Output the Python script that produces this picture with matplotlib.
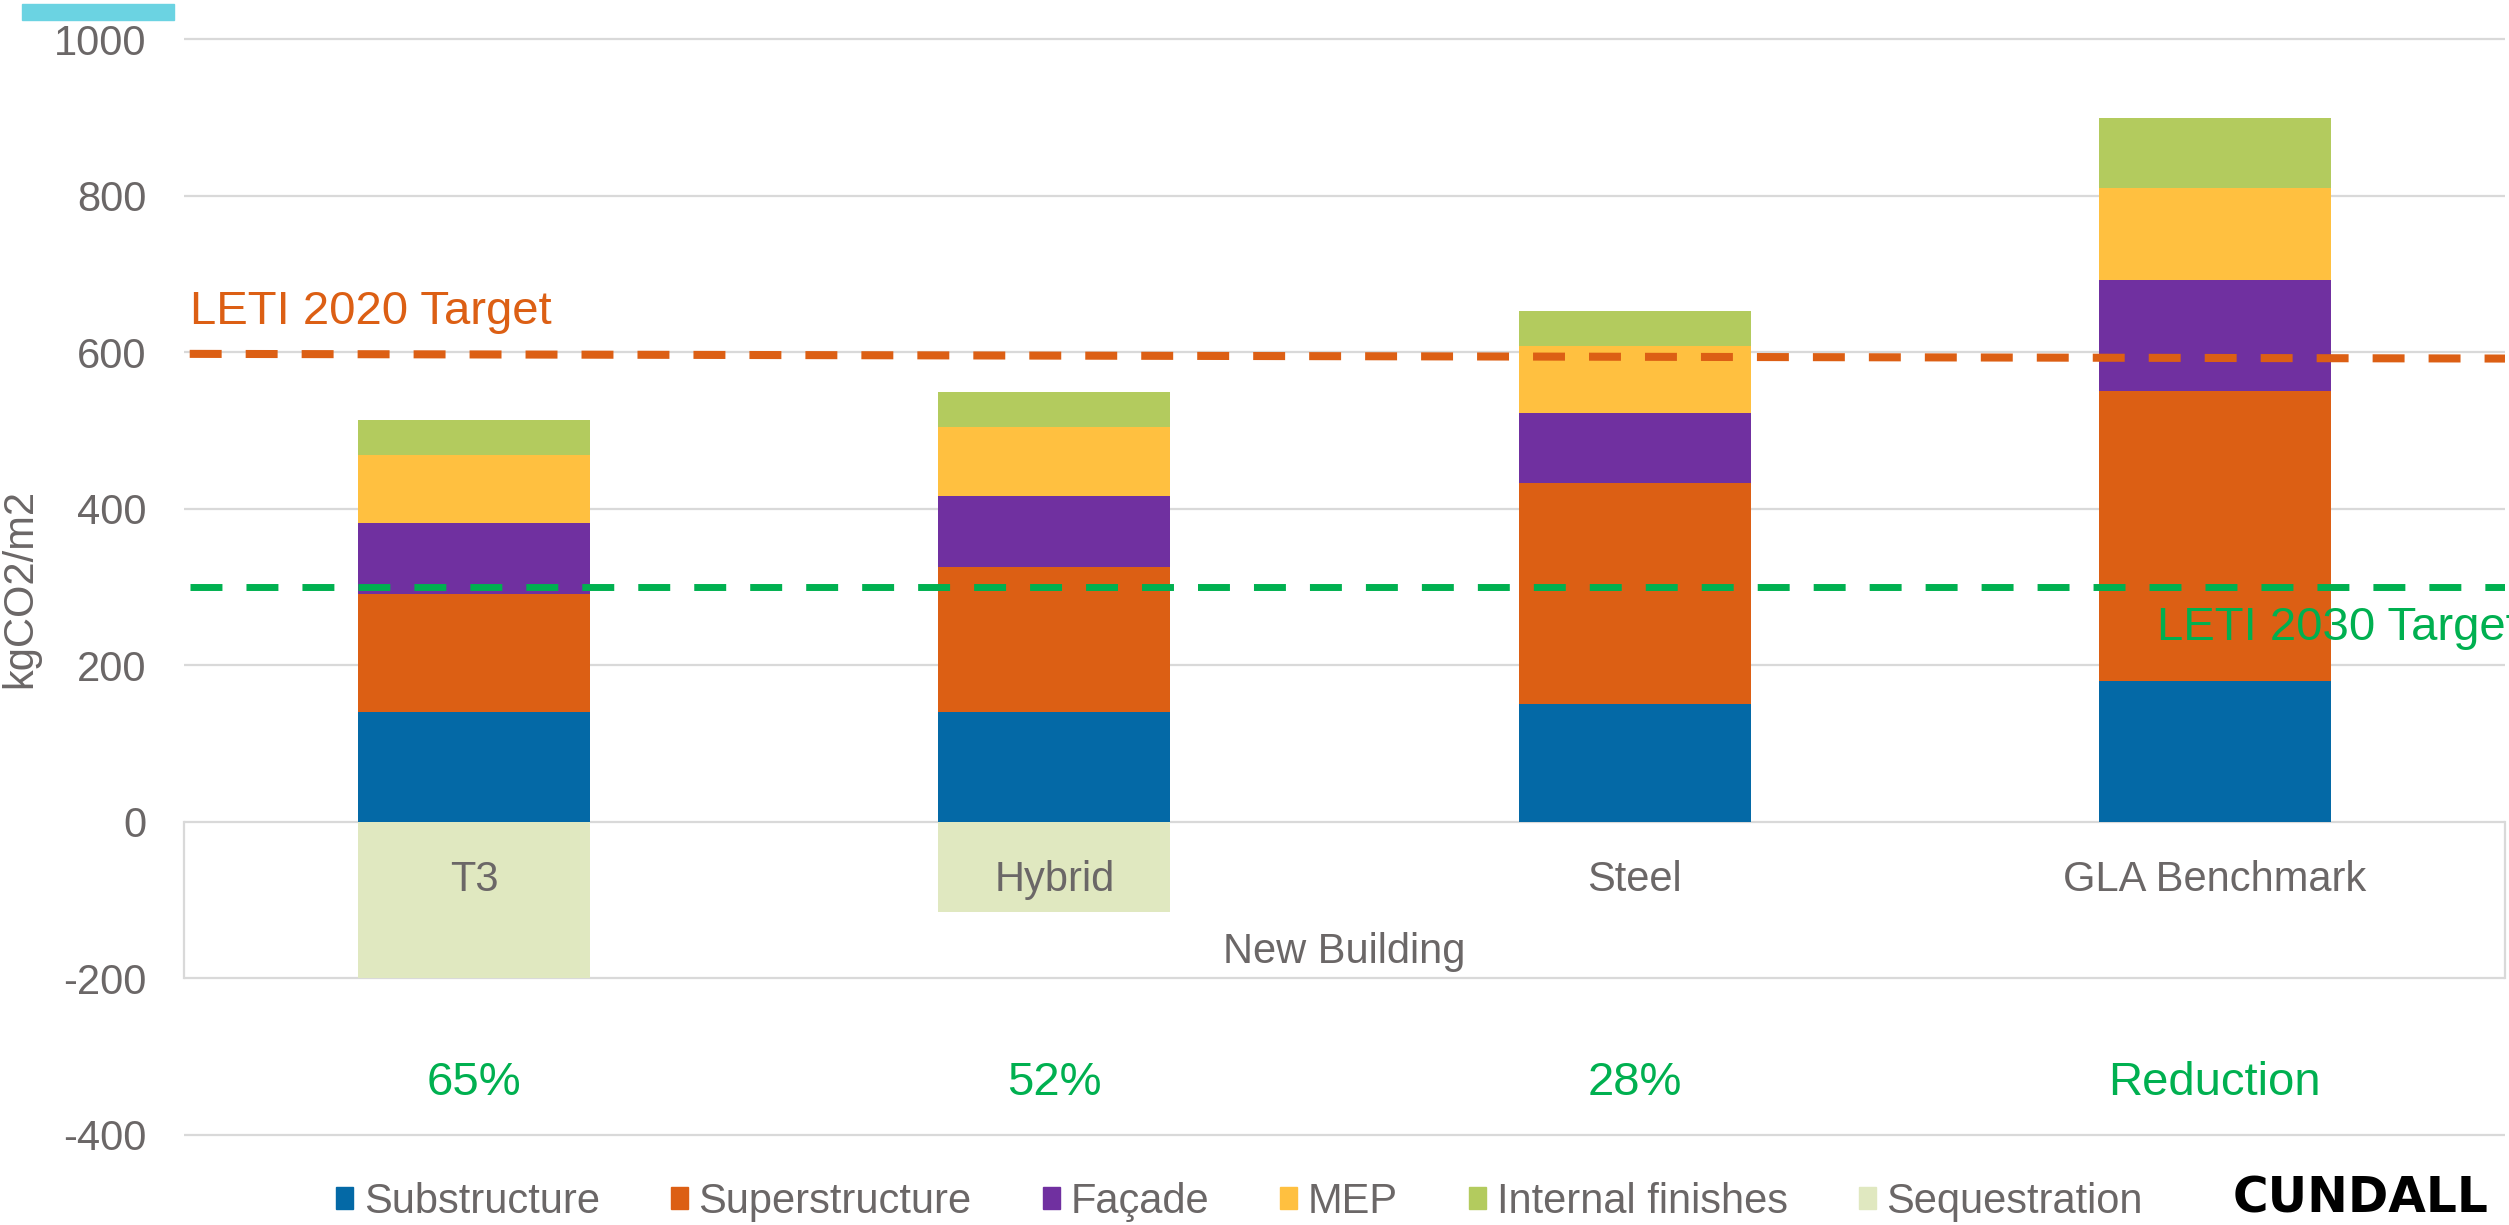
import matplotlib
matplotlib.use("Agg")
import matplotlib.pyplot as plt
from matplotlib.patches import Patch, Rectangle
import numpy as np

plt.rcParams['font.family'] = ['Liberation Sans', 'DejaVu Sans']
plt.rcParams['lines.scale_dashes'] = False
plt.rcParams['axes.unicode_minus'] = False

# data (kgCO2/m2)
categories = ['T3', 'Hybrid', 'Steel', 'GLA Benchmark']
group_label = 'New Building'
substructure = [140, 140, 150, 180]
superstructure = [151, 186, 283, 370]
facade = [91, 90, 89, 142]
mep = [87, 88, 86, 118]
internal_finishes = [45, 45, 45, 90]
sequestration = [-200, -116, 0, 0]
reduction_labels = ['65%', '52%', '28%', 'Reduction']
leti_2020 = [598, 592]   # line drifts slightly across the chart
leti_2030 = 300

series_names = ['Substructure', 'Superstructure', 'Façade', 'MEP',
                'Internal finishes', 'Sequestration']
colors = ['#0469A6', '#DC5F14', '#7030A0', '#FFC040', '#B3CB5E', '#E0E8C0']
grey = '#6B6767'
orange = '#DC5F14'
green = '#00B050'

fig = plt.figure(figsize=(25.09, 12.25), dpi=100)
ax = fig.add_axes([0.0733, 0.0718, 0.9251, 0.898])

x = np.arange(len(categories))
width = 0.4
bottom = np.zeros(len(categories))
for vals, col in zip([substructure, superstructure, facade, mep, internal_finishes],
                     colors[:5]):
    ax.bar(x, vals, width, bottom=bottom, color=col, zorder=2)
    bottom += np.array(vals)
ax.bar(x, sequestration, width, color=colors[5], zorder=2)

ax.set_xlim(-0.5, len(categories) - 0.5)
ax.set_ylim(-403, 1003)
ax.set_yticks(np.arange(-400, 1001, 200))
ax.yaxis.grid(True, color='#D9D9D9', linewidth=1.6, zorder=0)
ax.set_axisbelow(True)
for s in ax.spines.values():
    s.set_visible(False)
ax.set_xticks([])
ax.tick_params(axis='y', length=0, pad=27, labelsize=30, labelcolor=grey)

# category axis box between 0 and -200
ax.plot([-0.5, -0.5], [0, -200], color='#D9D9D9', lw=1.6, zorder=1, clip_on=False)
ax.plot([3.5, 3.5], [0, -200], color='#D9D9D9', lw=1.6, zorder=1, clip_on=False)
for xi, name in zip(x, categories):
    ax.text(xi, -74, name, ha='center', va='center', fontsize=30, color=grey, zorder=3)
ax.text(1.5, -167, group_label, ha='center', va='center', fontsize=30, color=grey)

for xi, lab in zip(x, reduction_labels):
    ax.text(xi, -334, lab, ha='center', va='center', fontsize=34, color=green)

# target lines
ax.plot([-0.49, 3.5], leti_2020, color=orange, lw=5.8, dashes=(23, 17.3), zorder=4)
ax.plot([-0.49, 3.5], [leti_2030, leti_2030], color=green, lw=5, dashes=(23, 17.3), zorder=4)
ax.text(-0.49, 652, 'LETI 2020 Target', ha='left', va='center', fontsize=34, color=orange)
ax.text(2.9, 248, 'LETI 2030 Target', ha='left', va='center', fontsize=34, color=green,
        zorder=5, clip_on=False)

fig.text(0.008, 0.52, 'kgCO2/m2', rotation=90, ha='center', va='center',
         fontsize=30, color=grey)

handles = [Patch(color=c) for c in colors]
fig.legend(handles, series_names, loc='center', bbox_to_anchor=(0.494, 0.019),
           ncol=6, frameon=False, fontsize=30, labelcolor=grey,
           handlelength=0.42, handleheight=0.42, handletextpad=0.25,
           columnspacing=1.7, borderpad=0)

fig.text(0.992, 0.022, 'CUNDALL', ha='right', va='center', fontsize=35,
         fontweight='bold', family='DejaVu Sans', color='black')

fig.patches.append(Rectangle((22 / 2509, 1 - 20 / 1225), 152 / 2509, 16 / 1225,
                             transform=fig.transFigure, color='#6BD3E2'))

fig.savefig('out.png', dpi=100)
